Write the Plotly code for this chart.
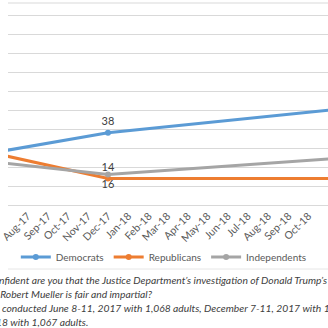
import plotly.graph_objects as go

dates = ["2017-06-01", "2017-12-01", "2018-12-01"]
democrats = [27, 38, 51]
republicans = [28, 14, 14]
independents = [23, 16, 25]

series = [
    ("Democrats", democrats, "#5B9BD5", "top center"),
    ("Republicans", republicans, "#ED7D31", "top center"),
    ("Independents", independents, "#A5A5A5", "bottom center"),
]

notes = [
    ("How confident are you that the Justice Department\u2019s investigation of Donald Trump\u2019s", "right", 328),
    ("campaign by Special Counsel Robert Mueller is fair and impartial?", "right", 150),
    ("Poll conducted June 8-11, 2017 with 1,068 adults, December 7-11, 2017 with 1", "right", 331),
    ("2018 with 1,067 adults.", "right", 83),
]
note_y = [280, 294, 308, 322]

W, H = 328, 328
PLOT_BOTTOM = 205
FONT = "Lato, Noto Sans, sans-serif"

fig = go.Figure()
for name, vals, color, pos in series:
    fig.add_trace(go.Scatter(
        x=dates, y=vals, name=name, mode="lines+markers+text",
        text=[str(v) for v in vals], textposition=pos,
        textfont=dict(size=11, color="#404040", family=FONT),
        line=dict(color=color, width=3),
        marker=dict(size=6, color=color),
        cliponaxis=False,
    ))

annotations = []
for (txt, anchor, xpx), ypx in zip(notes, note_y):
    annotations.append(dict(
        text="<i>" + txt + "</i>", xref="paper", yref="paper",
        x=xpx / W, y=(PLOT_BOTTOM - ypx) / PLOT_BOTTOM,
        xanchor=anchor, align=anchor, yanchor="middle", showarrow=False,
        borderpad=0,
        font=dict(size=10.3, color="#404040", family=FONT),
    ))

shapes = [
    dict(type="line", xref="paper", yref="paper", x0=0, x1=1,
         y0=(PLOT_BOTTOM - 3) / PLOT_BOTTOM, y1=(PLOT_BOTTOM - 3) / PLOT_BOTTOM,
         line=dict(color="#D9D9D9", width=1)),
    dict(type="line", xref="paper", yref="paper", x0=0, x1=1,
         y0=(PLOT_BOTTOM - 269) / PLOT_BOTTOM, y1=(PLOT_BOTTOM - 269) / PLOT_BOTTOM,
         line=dict(color="#E6E6E6", width=1)),
]

fig.update_layout(
    width=W, height=H, autosize=False,
    margin=dict(l=0, r=0, t=0, b=H - PLOT_BOTTOM, pad=0),
    paper_bgcolor="white", plot_bgcolor="white",
    font=dict(family=FONT, color="#595959"),
    showlegend=True,
    legend=dict(orientation="h", x=8 / W, xanchor="left", y=(PLOT_BOTTOM - 257) / PLOT_BOTTOM,
                yanchor="middle", font=dict(size=10, color="#595959", family=FONT),
                bgcolor="rgba(0,0,0,0)", itemwidth=30, borderwidth=0),
    xaxis=dict(type="date", range=["2017-07-02 07:00", "2018-10-30 19:00"],
               tick0="2017-06-01", dtick="M1", tickformat="%b-%y", tickangle=-45,
               tickfont=dict(size=10.5, color="#595959"), showgrid=False,
               ticklabeloverflow="allow",
               showline=True, linecolor="#D9D9D9", linewidth=1, ticks="", zeroline=False),
    yaxis=dict(range=[0, 107.9], dtick=10, showticklabels=False, gridcolor="#D9D9D9",
               gridwidth=1, zeroline=False, showline=False, ticks=""),
    annotations=annotations, shapes=shapes,
)

fig.write_html("out.html")
